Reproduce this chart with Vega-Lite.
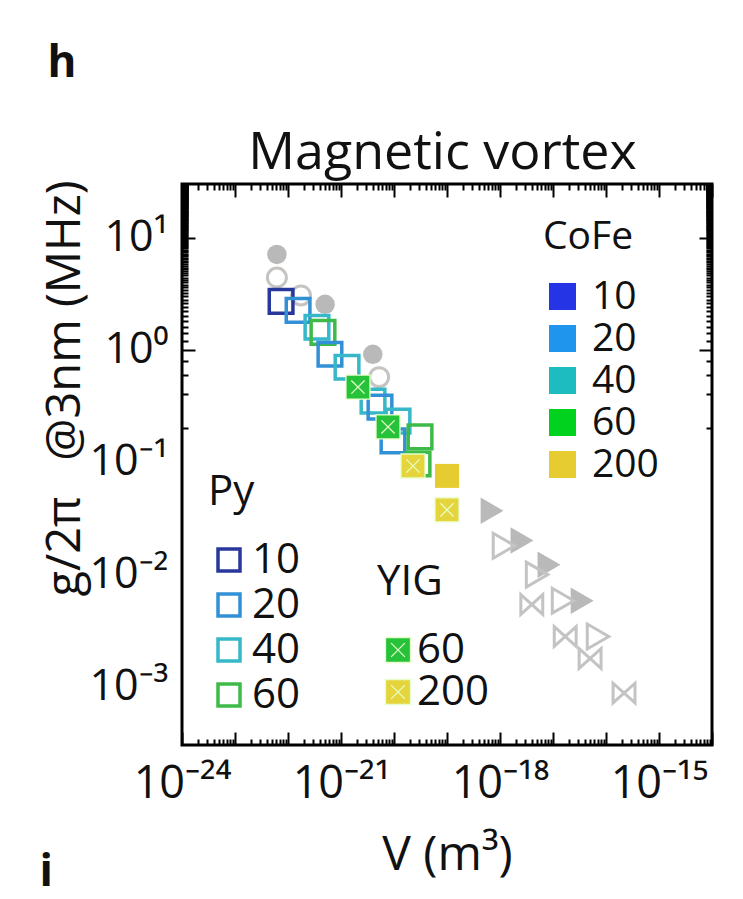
{
  "$schema": "https://vega.github.io/schema/vega-lite/v6.json",
  "width": 530,
  "height": 561,
  "autosize": {"type": "none"},
  "padding": {"left": 182, "top": 184, "right": 31, "bottom": 154},
  "background": "white",
  "config": {
    "font": "Open Sans",
    "view": {"stroke": "black", "strokeWidth": 3},
    "axis": {"labelFont": "Open Sans", "titleFont": "Open Sans", "labelColor": "#111111", "titleColor": "#111111", "titleFontWeight": "normal", "domain": false, "grid": false, "tickColor": "black", "tickWidth": 2},
    "legend": {"labelFont": "Open Sans", "titleFont": "Open Sans", "titleFontWeight": "normal", "labelColor": "#111111", "titleColor": "#111111", "padding": 0}
  },
  "data": {"values": [
    {"grp": "cf", "t": "", "V": 6.17e-23, "g": 7.07},
    {"grp": "cf", "t": "", "V": 5.01e-22, "g": 2.54},
    {"grp": "cf", "t": "", "V": 3.98e-21, "g": 0.91},
    {"grp": "co", "t": "", "V": 6.17e-23, "g": 4.40},
    {"grp": "co", "t": "", "V": 1.76e-22, "g": 3.05},
    {"grp": "co", "t": "", "V": 5.25e-21, "g": 0.57},
    {"grp": "tf", "t": "", "V": 7.08e-19, "g": 0.0367},
    {"grp": "tf", "t": "", "V": 2.60e-18, "g": 0.0199},
    {"grp": "tf", "t": "", "V": 8.41e-18, "g": 0.0121},
    {"grp": "tf", "t": "", "V": 3.55e-17, "g": 0.0058},
    {"grp": "to", "t": "", "V": 1.19e-18, "g": 0.0179},
    {"grp": "to", "t": "", "V": 5.01e-18, "g": 0.0099},
    {"grp": "to", "t": "", "V": 1.55e-17, "g": 0.0058},
    {"grp": "to", "t": "", "V": 7.08e-17, "g": 0.00278},
    {"grp": "tx", "t": "", "V": 3.98e-18, "g": 0.00536},
    {"grp": "tx", "t": "", "V": 1.70e-17, "g": 0.00278},
    {"grp": "tx", "t": "", "V": 5.01e-17, "g": 0.00177},
    {"grp": "tx", "t": "", "V": 2.19e-16, "g": 0.00087},
    {"grp": "Py", "t": "10", "V": 7.41e-23, "g": 2.70},
    {"grp": "Py", "t": "20", "V": 1.55e-22, "g": 2.24},
    {"grp": "Py", "t": "40", "V": 3.52e-22, "g": 1.585},
    {"grp": "Py", "t": "60", "V": 4.57e-22, "g": 1.43},
    {"grp": "Py", "t": "20", "V": 6.19e-22, "g": 0.912},
    {"grp": "Py", "t": "40", "V": 1.30e-21, "g": 0.698},
    {"grp": "Py", "t": "40", "V": 4.02e-21, "g": 0.348},
    {"grp": "Py", "t": "20", "V": 5.44e-21, "g": 0.308},
    {"grp": "Py", "t": "40", "V": 1.19e-20, "g": 0.231},
    {"grp": "Py", "t": "20", "V": 9.57e-21, "g": 0.154},
    {"grp": "Py", "t": "60", "V": 3.10e-20, "g": 0.167},
    {"grp": "Py", "t": "60", "V": 2.84e-20, "g": 0.0959},
    {"grp": "YIG", "t": "60", "V": 2.09e-21, "g": 0.465},
    {"grp": "YIG", "t": "60", "V": 7.71e-21, "g": 0.205},
    {"grp": "YIG", "t": "200", "V": 2.28e-20, "g": 0.092},
    {"grp": "YIG", "t": "200", "V": 1.0e-19, "g": 0.0374},
    {"grp": "CoFe", "t": "200", "V": 1.0e-19, "g": 0.0751}
  ]},
  "layer": [
    {
      "transform": [{"filter": "datum.grp == 'cf'"}],
      "mark": {"type": "point", "shape": "circle", "filled": true, "color": "#b9b9b9", "size": 380, "opacity": 1},
      "encoding": {
        "x": {"field": "V", "type": "quantitative", "scale": {"type": "log", "domain": [1e-24, 1e-14], "nice": false}, "axis": null},
        "y": {"field": "g", "type": "quantitative", "scale": {"type": "log", "domain": [0.0003, 30], "nice": false}, "axis": null}
      }
    },
    {
      "transform": [{"filter": "datum.grp == 'co'"}],
      "mark": {"type": "point", "shape": "circle", "filled": false, "color": "#c6c3c0", "size": 360, "strokeWidth": 3, "opacity": 1},
      "encoding": {
        "x": {"field": "V", "type": "quantitative", "scale": {"type": "log", "domain": [1e-24, 1e-14], "nice": false}, "axis": null},
        "y": {"field": "g", "type": "quantitative", "scale": {"type": "log", "domain": [0.0003, 30], "nice": false}, "axis": null}
      }
    },
    {
      "transform": [{"filter": "datum.grp == 'tf'"}],
      "mark": {"type": "point", "shape": "triangle-right", "filled": true, "color": "#b9b9b9", "size": 700, "opacity": 1},
      "encoding": {
        "x": {"field": "V", "type": "quantitative", "scale": {"type": "log", "domain": [1e-24, 1e-14], "nice": false}, "axis": null},
        "y": {"field": "g", "type": "quantitative", "scale": {"type": "log", "domain": [0.0003, 30], "nice": false}, "axis": null}
      }
    },
    {
      "transform": [{"filter": "datum.grp == 'to'"}],
      "mark": {"type": "point", "shape": "triangle-right", "filled": false, "color": "#c3c3c3", "size": 620, "strokeWidth": 3, "opacity": 1},
      "encoding": {
        "x": {"field": "V", "type": "quantitative", "scale": {"type": "log", "domain": [1e-24, 1e-14], "nice": false}, "axis": null},
        "y": {"field": "g", "type": "quantitative", "scale": {"type": "log", "domain": [0.0003, 30], "nice": false}, "axis": null}
      }
    },
    {
      "transform": [{"filter": "datum.grp == 'tx'"}],
      "mark": {"type": "point", "shape": "M-1,-0.9L1,0.9L1,-0.9L-1,0.9Z", "filled": false, "color": "#c3c3c3", "size": 480, "strokeWidth": 3, "opacity": 1},
      "encoding": {
        "x": {"field": "V", "type": "quantitative", "scale": {"type": "log", "domain": [1e-24, 1e-14], "nice": false}, "axis": null},
        "y": {"field": "g", "type": "quantitative", "scale": {"type": "log", "domain": [0.0003, 30], "nice": false}, "axis": null}
      }
    },
    {
      "transform": [{"filter": "datum.grp == 'Py'"}],
      "mark": {"type": "point", "shape": "square", "filled": false, "size": 560, "strokeWidth": 3.5, "opacity": 1},
      "encoding": {
        "x": {"field": "V", "type": "quantitative", "scale": {"type": "log", "domain": [1e-24, 1e-14], "nice": false},
          "axis": {"orient": "bottom", "values": [1e-24, 1e-21, 1e-18, 1e-15], "ticks": false, "labelFlush": false, "labelOverlap": false, "labelBound": false,
            "labelExpr": "['10⁻²⁴','10⁻²¹','10⁻¹⁸','10⁻¹⁵'][round((log(datum.value)/LN10+24)/3)]",
            "labelFontSize": 45, "labelPadding": 16,
            "title": "V (m³)", "titleFontSize": 48, "titleX": 265, "titleY": 124, "titleBaseline": "alphabetic", "titleAlign": "center"}},
        "y": {"field": "g", "type": "quantitative", "scale": {"type": "log", "domain": [0.0003, 30], "nice": false},
          "axis": {"orient": "left", "values": [10, 1, 0.1, 0.01, 0.001], "ticks": false, "labelFlush": false, "labelOverlap": false, "labelBound": false,
            "labelExpr": "['10⁻³','10⁻²','10⁻¹','10⁰','10¹'][round(log(datum.value)/LN10)+3]",
            "labelFontSize": 43, "labelPadding": 14,
            "title": "g/2π\u2002 @3nm (MHz)", "titleFontSize": 47, "titleX": -103, "titleY": 204, "titleAngle": 270, "titleBaseline": "alphabetic", "titleAlign": "center"}},
        "color": {"field": "t", "type": "nominal",
          "scale": {"domain": ["10", "20", "40", "60"], "range": ["#28389a", "#3290d6", "#36b8c8", "#3dba48"]},
          "legend": {"title": "Py", "orient": "none", "legendX": 26, "legendY": 288, "symbolType": "square", "symbolSize": 484, "symbolStrokeWidth": 3.5,
            "labelFontSize": 42, "titleFontSize": 42, "rowPadding": 3, "titlePadding": 25, "labelOffset": 2}}
      }
    },
    {
      "transform": [{"filter": "datum.grp == 'YIG'"}],
      "mark": {"type": "point", "shape": "M-1,-1L1,-1L1,1L-1,1Z M-0.55,-0.55L0.55,0.55 M-0.55,0.55L0.55,-0.55", "filled": true, "size": 576, "stroke": "#e6ffc8", "strokeWidth": 1.3, "opacity": 1},
      "encoding": {
        "x": {"field": "V", "type": "quantitative", "scale": {"type": "log", "domain": [1e-24, 1e-14], "nice": false},
          "axis": {"orient": "top", "labels": false, "tickCount": 100,
            "tickSize": {"condition": {"test": "abs(log(datum.value)/LN10 - round(log(datum.value)/LN10)) < 0.000001", "value": -13}, "value": -6},
            "title": "Magnetic vortex", "titleFontSize": 52, "titleX": 260, "titleY": -16, "titleBaseline": "alphabetic", "titleAlign": "center"}},
        "y": {"field": "g", "type": "quantitative", "scale": {"type": "log", "domain": [0.0003, 30], "nice": false},
          "axis": {"orient": "right", "labels": false, "tickCount": 100,
            "tickSize": {"condition": {"test": "abs(log(datum.value)/LN10 - round(log(datum.value)/LN10)) < 0.000001", "value": -13}, "value": -6},
            "title": "h", "titleFontSize": 44, "titleFontWeight": "bold", "titleAngle": 0, "titleX": -665, "titleY": -108, "titleBaseline": "alphabetic", "titleAlign": "left"}},
        "color": {"field": "t", "type": "nominal",
          "scale": {"domain": ["60", "200"], "range": ["#25c23a", "#e6d43c"]},
          "legend": {"title": "YIG", "orient": "none", "legendX": 195, "legendY": 378,
            "symbolType": "M-1,-1L1,-1L1,1L-1,1Z M-0.55,-0.55L0.55,0.55 M-0.55,0.55L0.55,-0.55", "symbolSize": 625,
            "symbolStrokeColor": "#e6ffc8", "symbolStrokeWidth": 1.3,
            "labelFontSize": 42, "titleFontSize": 42, "rowPadding": 0, "titlePadding": 25, "labelOffset": -2}}
      }
    },
    {
      "transform": [{"filter": "datum.grp == 'CoFe'"}],
      "mark": {"type": "point", "shape": "square", "filled": true, "size": 576, "opacity": 1},
      "encoding": {
        "x": {"field": "V", "type": "quantitative", "scale": {"type": "log", "domain": [1e-24, 1e-14], "nice": false},
          "axis": {"orient": "bottom", "labels": false, "tickCount": 100,
            "tickSize": {"condition": {"test": "abs(log(datum.value)/LN10 - round(log(datum.value)/LN10)) < 0.000001", "value": -13}, "value": -6},
            "title": "i", "titleFontSize": 44, "titleFontWeight": "bold", "titleAngle": 0, "titleX": -143, "titleY": 140, "titleBaseline": "alphabetic", "titleAlign": "left"}},
        "y": {"field": "g", "type": "quantitative", "scale": {"type": "log", "domain": [0.0003, 30], "nice": false},
          "axis": {"orient": "left", "labels": false, "tickCount": 100,
            "tickSize": {"condition": {"test": "abs(log(datum.value)/LN10 - round(log(datum.value)/LN10)) < 0.000001", "value": -13}, "value": -6},
            "title": null}},
        "color": {"field": "t", "type": "nominal",
          "scale": {"domain": ["10", "20", "40", "60", "200"], "range": ["#2535e6", "#1f95ee", "#1cbcc0", "#00d21e", "#e6cc30"]},
          "legend": {"title": "CoFe", "orient": "none", "legendX": 361, "legendY": 34, "symbolType": "square", "symbolSize": 729,
            "labelFontSize": 39, "titleFontSize": 39, "rowPadding": 2, "titlePadding": 20, "labelOffset": 10}}
      }
    }
  ],
  "resolve": {"scale": {"color": "independent"}, "axis": {"x": "independent", "y": "independent"}, "legend": {"color": "independent"}}
}
